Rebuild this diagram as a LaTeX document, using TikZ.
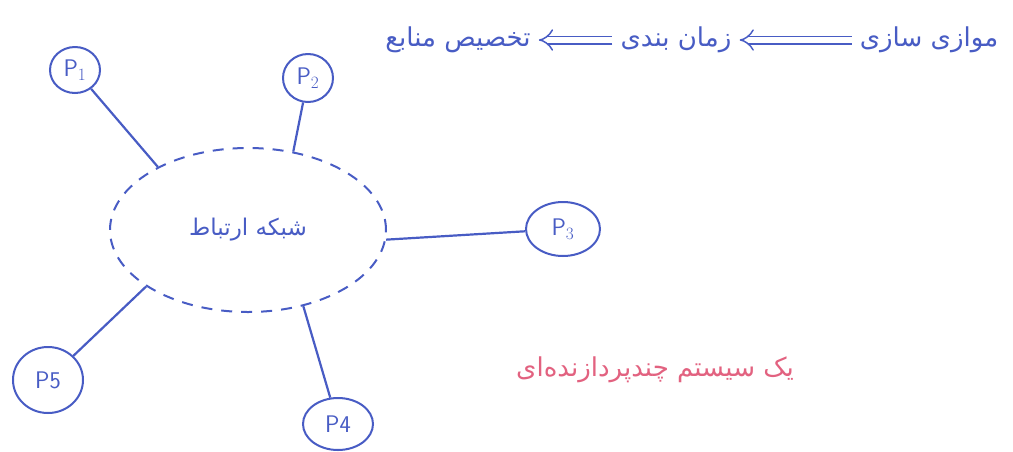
\documentclass[tikz,border=0pt]{standalone}
\usepackage{fontspec}
\usetikzlibrary{positioning,arrows.meta,shapes.geometric}
\newfontfamily\farsi[Script=Arabic]{DejaVu Sans}
\TeXXeTstate=1
\definecolor{ink}{RGB}{72,92,196}
\definecolor{redink}{RGB}{226,98,128}
\newcommand{\fa}[1]{{\farsi\beginR #1\endR}}

\begin{document}
\begin{tikzpicture}[x=1pt,y=-1pt,
  proc/.style={draw=ink,ellipse,line width=2pt,inner sep=0pt,text=ink,
    font=\sffamily\fontsize{24}{26}\selectfont},
  link/.style={draw=ink,line width=2.2pt},
  word/.style={text=ink,inner sep=1pt,font=\fontsize{26}{30}\selectfont},
  then/.style={draw=ink,line width=1.5pt,double distance=6pt,-{Implies},
    shorten >=7pt,shorten <=7pt}]
  \useasboundingbox (0,0) rectangle (1013,451);

  % network
  \node[draw=ink,ellipse,line width=2pt,dash pattern=on 11pt off 9pt,
    minimum width=276pt,minimum height=164pt,text=ink,
    font=\fontsize{23}{26}\selectfont] (net) at (248,230) {\fa{شبکه ارتباط}};

  % processors
  \node[proc,minimum width=50pt,minimum height=46pt] (p1) at (75,70) {P$_1$};
  \node[proc,minimum width=50pt,minimum height=48pt] (p2) at (308,78) {P$_2$};
  \node[proc,minimum width=74pt,minimum height=54pt] (p3) at (563,229) {P$_3$};
  \node[proc,minimum width=70pt,minimum height=52pt] (p4) at (338,424) {P4};
  \node[proc,minimum width=70pt,minimum height=66pt] (p5) at (48,380) {P5};

  \draw[link] (p1) -- (net.145);
  \draw[link] (p2) -- (net.60);
  \draw[link] (p3) -- (net.-4);
  \draw[link] (p4) -- (net.-54);
  \draw[link] (p5) -- (net.209);

  % top line
  \node[word] (par) at (929,40) {\fa{موازی سازی}};
  \node[word] (sch) at (676,40) {\fa{زمان بندی}};
  \node[word] (res) at (458,40) {\fa{تخصیص منابع}};
  \draw[then] (par.west) -- (sch.east);
  \draw[then] (sch.west) -- (res.east);

  \node[text=redink,font=\fontsize{26}{30}\selectfont] (sys) at (655,370)
    {\fa{یک سیستم چندپردازنده‌ای}};
\end{tikzpicture}
\end{document}
